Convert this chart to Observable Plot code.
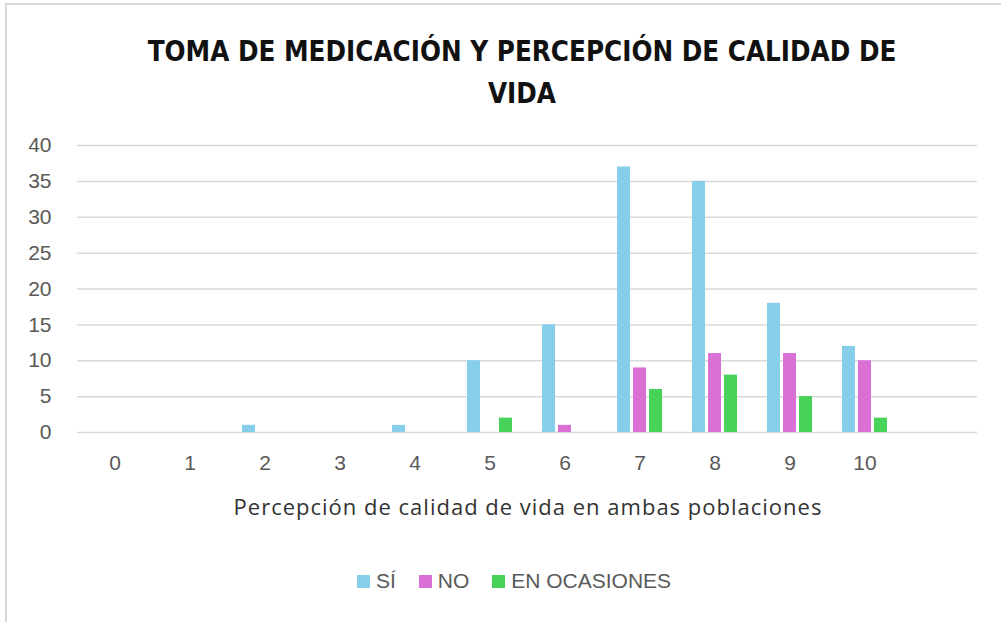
<!DOCTYPE html>
<html>
<head>
<meta charset="utf-8">
<script src="https://cdn.jsdelivr.net/npm/d3@7"></script>
<script src="https://cdn.jsdelivr.net/npm/@observablehq/plot@0.6"></script>
<style>
  html, body { margin: 0; padding: 0; background: #fff; }
  #frame { position: absolute; left: 5px; top: 3px; width: 1000px; height: 625px;
           border-top: 2px solid #d9d9d9; border-left: 2px solid #d9d9d9; box-sizing: border-box; }
  #title { position: absolute; left: 0; width: 1044px; top: 30px; text-align: center;
           font-family: "DejaVu Sans Condensed", "Liberation Sans Narrow", sans-serif; font-weight: bold;
           font-size: 27.5px; line-height: 42px; color: #111; }
  #chart { position: absolute; left: 0; top: 130px; }
  #xlabel { position: absolute; left: 0; width: 1056px; top: 491px; text-align: center;
            font-family: "Open Sans", sans-serif; font-size: 22px; letter-spacing: 1px; color: #333; }
  #legend { position: absolute; left: 0; width: 1028px; top: 566px; }
  #legend .lg-swatches { justify-content: center; min-height: 30px; }
  #legend .lg-swatch { margin-right: 23px; font-family: "Liberation Sans", Arial, sans-serif; font-size: 21px; color: #595959; }
  #legend .lg-swatch:last-child { margin-right: 0; }
  #legend .lg-swatch > svg { margin-right: 6px; }
</style>
</head>
<body>
<div id="frame"></div>
<div id="title">TOMA DE MEDICACIÓN Y PERCEPCIÓN DE CALIDAD DE<br>VIDA</div>
<div id="chart"></div>
<div id="xlabel">Percepción de calidad de vida en ambas poblaciones</div>
<div id="legend"></div>
<script>
// Categories (x), including the empty trailing slot of the original chart
const categories = ["0", "1", "2", "3", "4", "5", "6", "7", "8", "9", "10", ""];
const series = ["SÍ", "NO", "EN OCASIONES"];
const colors = ["#87ceeb", "#da70d6", "#47d35a"];
// Values per category 0..10
const si          = [0, 0, 1, 0, 1, 10, 15, 37, 35, 18, 12];
const no          = [0, 0, 0, 0, 0, 0, 1, 9, 11, 11, 10];
const enOcasiones = [0, 0, 0, 0, 0, 2, 0, 6, 8, 5, 2];
const yTicks = [0, 5, 10, 15, 20, 25, 30, 35, 40];

const valuesBySeries = [si, no, enOcasiones];
const data = [];
categories.forEach((c, i) => {
  series.forEach((s, j) => {
    data.push({cat: c, series: s, value: valuesBySeries[j][i] ?? 0});
  });
});

const chart = Plot.plot({
  width: 1001,
  height: 400,
  marginLeft: 73,
  marginRight: 21,
  marginTop: 15,
  marginBottom: 98,
  style: {fontFamily: "'Liberation Sans', Arial, sans-serif", fontSize: "21px", color: "#595959", background: "transparent"},
  fx: {domain: categories, padding: 0, label: null},
  x: {domain: series, paddingInner: 0.17, paddingOuter: 0.9, axis: null},
  y: {domain: [0, 40], label: null},
  color: {domain: series, range: colors},
  marks: [
    Plot.gridY(yTicks, {stroke: "#d9d9d9", strokeOpacity: 1, strokeWidth: 1.5}),
    Plot.barY(data, {fx: "cat", x: "series", y: "value", fill: "series"}),
    Plot.axisY(yTicks, {tickSize: 0, tickPadding: 26, label: null, fontSize: 21}),
    Plot.axisFx({anchor: "bottom", tickSize: 0, tickPadding: 23, label: null, fontSize: 21})
  ]
});
document.getElementById("chart").appendChild(chart);

const legend = Plot.legend({
  color: {domain: series, range: colors},
  legend: "swatches",
  swatchSize: 13,
  className: "lg"
});
document.getElementById("legend").appendChild(legend);
</script>
</body>
</html>
